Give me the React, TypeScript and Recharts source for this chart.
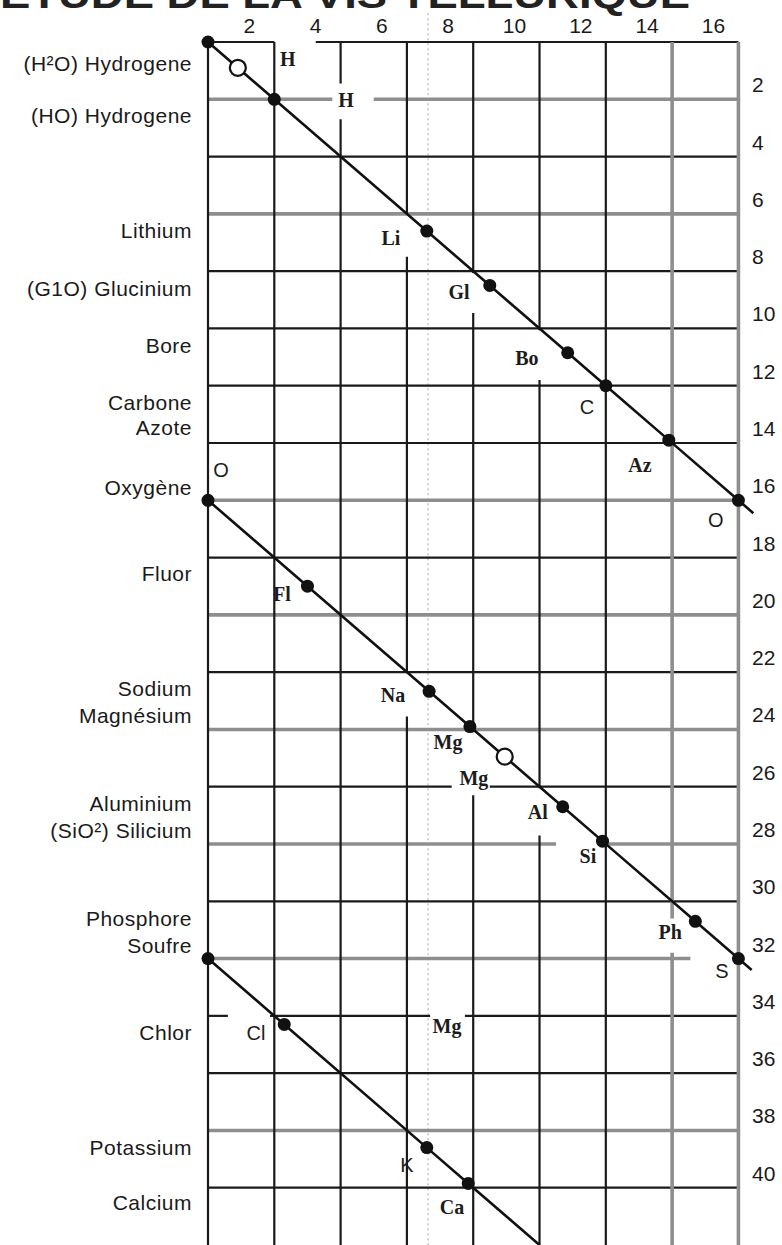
import React from "react";
import { ComposedChart, XAxis, YAxis, Scatter, ReferenceLine } from "recharts";

// ---- data ----
const titleText = "ÉTUDE DE LA VIS TELLURIQUE";
const topTicks = [2, 4, 6, 8, 10, 12, 14, 16];
const rightTicks = [2, 4, 6, 8, 10, 12, 14, 16, 18, 20, 22, 24, 26, 28, 30, 32, 34, 36, 38, 40];

const leftNames = [
  "(H²O) Hydrogene", "(HO) Hydrogene", "Lithium", "(G1O) Glucinium", "Bore",
  "Carbone", "Azote", "Oxygène", "Fluor", "Sodium", "Magnésium", "Aluminium",
  "(SiO²) Silicium", "Phosphore", "Soufre", "Chlor", "Potassium", "Calcium",
];
const leftPositions = [
  0.73, 2.55, 6.56, 8.59, 10.58, 12.57, 13.44, 15.54, 18.54, 22.55, 23.5, 26.57,
  27.51, 30.58, 31.53, 34.56, 38.58, 40.5,
];

// atomic weights of the plotted (filled) points on each turn of the screw
const turn1Weights = [0, 2, 6.6, 8.5, 10.85, 12, 13.9, 16];
const turn2Weights = [16, 19, 22.67, 23.9, 26.7, 27.9, 30.7, 32];
const turn3Weights = [32, 34.3, 38.6, 39.85];
const openWeights = [0.9, 24.95];
const turnStarts = [0, 16, 32];
const turnEnds = [16.45, 32.4, 42];

// element symbols written beside the points
const symbolTexts = ["H", "H", "Li", "Gl", "Bo", "C", "Az", "O", "O", "Fl", "Na", "Mg", "Mg", "Al", "Si", "Ph", "S", "Cl", "Mg", "K", "Ca"];
const symbolX = [2.41, 4.16, 5.52, 7.57, 9.62, 11.43, 13.03, 15.32, 0.39, 2.23, 5.58, 7.24, 8.02, 9.95, 11.46, 13.94, 15.5, 1.45, 7.21, 6.0, 7.36];
const symbolY = [0.59, 2.02, 6.84, 8.73, 11.03, 12.74, 14.77, 16.69, 14.94, 19.27, 22.8, 24.44, 25.7, 26.88, 28.42, 31.07, 32.43, 34.6, 34.35, 39.21, 40.67];

// grid
const gridRows = [0, 2, 4, 6, 8, 10, 12, 14, 16, 18, 20, 22, 24, 26, 28, 30, 32, 34, 36, 38, 40];
const gridCols = [0, 2, 4, 6, 8, 10, 12, 14, 16];
const grayRows = [2, 6, 16, 20, 24, 28, 32, 38];
const grayCols = [14, 16];
const faintCols = [6.64];
const rowGaps: Record<number, number[][]> = {
  0: [[2, 3.25]],
  2: [[3.75, 5]],
  26: [[7.35, 8.5]],
  28: [[10.5, 11.8]],
  32: [[14.55, 16]],
  34: [[0.6, 1.87], [6.7, 7.75]],
};
const colGaps: Record<number, number[][]> = {
  4: [[1.45, 2.7]],
  6: [[6, 7.5], [22, 23.55]],
  8: [[8.07, 9.46], [24.1, 26.3]],
  10: [[10.06, 11.8], [26.05, 27.7]],
  14: [[30.6, 31.8]],
};

// ---- helpers ----
function split(from: number, to: number, gaps: number[][] = []) {
  const out: number[][] = [];
  let cur = from;
  [...gaps].sort((a, b) => a[0] - b[0]).forEach(([a, b]) => {
    if (a > cur) out.push([cur, a]);
    cur = Math.max(cur, b);
  });
  if (cur < to) out.push([cur, to]);
  return out;
}

function turnData(weights: number[], start: number, end: number) {
  return [
    ...weights.map((w) => ({ x: w - start, y: w, kind: "dot" })),
    { x: end - start, y: end, kind: "end" },
  ];
}

const turns = [
  turnData(turn1Weights, turnStarts[0], turnEnds[0]),
  turnData(turn2Weights, turnStarts[1], turnEnds[1]),
  turnData(turn3Weights, turnStarts[2], turnEnds[2]),
];
const openData = openWeights.map((w) => {
  const s = w >= 32 ? 32 : w >= 16 ? 16 : 0;
  return { x: w - s, y: w };
});
const symbolData = symbolTexts.map((t, i) => ({ x: symbolX[i], y: symbolY[i], t }));

const INK = "#1a1a1a";
const GRAY = "#8e8e8e";
const SANS = "'Liberation Sans', Arial, sans-serif";
const SERIF = "'Liberation Serif', 'Times New Roman', serif";
const sansSymbols = new Set(["O", "C", "S", "K", "Cl"]);

const TopTick = (props: any) => (
  <text x={props.x - 25} y={33} textAnchor="middle" fontFamily={SANS} fontSize={21} fill={INK}>
    {props.payload.value}
  </text>
);
const RightTick = (props: any) => (
  <text x={752} y={props.y - 7} textAnchor="start" fontFamily={SANS} fontSize={21} fill={INK}>
    {props.payload.value}
  </text>
);
const LeftTick = (props: any) => {
  const i = leftPositions.indexOf(props.payload.value);
  return (
    <text x={192} y={props.y + 8} textAnchor="end" fontFamily={SANS} fontSize={21} letterSpacing={0.5} fill={INK}>
      {i >= 0 ? leftNames[i] : ""}
    </text>
  );
};

const DotShape = (p: any) =>
  p.payload && p.payload.kind === "end" ? <g /> : <circle cx={p.cx} cy={p.cy} r={6.5} fill="#111" />;
const OpenShape = (p: any) => <circle cx={p.cx} cy={p.cy} r={8} fill="#fff" stroke="#111" strokeWidth={2.2} />;
const SymbolShape = (p: any) => {
  const t = p.payload.t;
  const sans = sansSymbols.has(t);
  return (
    <text
      x={p.cx}
      y={p.cy}
      dy="0.36em"
      textAnchor="middle"
      fontFamily={sans ? SANS : SERIF}
      fontWeight={sans ? 400 : 700}
      fontSize={20}
      fill="#1c1c1c"
    >
      {t}
    </text>
  );
};

export default function App() {
  const rowLines: any[] = [];
  gridRows.forEach((r) => {
    const gray = grayRows.includes(r);
    split(0, 16, rowGaps[r]).forEach(([a, b], k) => {
      rowLines.push(
        <ReferenceLine
          key={`r${r}-${k}`}
          yAxisId="r"
          segment={[{ x: a, y: r }, { x: b, y: r }]}
          stroke={gray ? GRAY : INK}
          strokeWidth={gray ? 3.6 : 2.2}
        />
      );
    });
  });
  const colLines: any[] = [];
  gridCols.forEach((c) => {
    const gray = grayCols.includes(c);
    split(0, 42, colGaps[c]).forEach(([a, b], k) => {
      colLines.push(
        <ReferenceLine
          key={`c${c}-${k}`}
          yAxisId="r"
          segment={[{ x: c, y: a }, { x: c, y: b }]}
          stroke={gray ? GRAY : INK}
          strokeWidth={gray ? 3.6 : 2.2}
        />
      );
    });
  });

  return (
    <div style={{ position: "absolute", left: 0, top: 0, width: 782, height: 1245, background: "#fff", overflow: "hidden" }}>
      <svg width={782} height={40} style={{ position: "absolute", left: 0, top: 0 }}>
        <text x={0} y={8} fontFamily={SANS} fontWeight={700} fontSize={36} fill="#222" textLength={690} lengthAdjust="spacingAndGlyphs">
          {titleText}
        </text>
      </svg>
      <ComposedChart width={782} height={1245} margin={{ top: 0, right: 0, bottom: 0, left: 0 }} style={{ position: "absolute", left: 0, top: 0 }}>
        <XAxis
          xAxisId={0}
          dataKey="x"
          type="number"
          orientation="top"
          domain={[0, 16.5]}
          height={42}
          ticks={topTicks}
          interval={0}
          axisLine={false}
          tickLine={false}
          tick={TopTick}
        />
        <YAxis
          yAxisId="l"
          dataKey="y"
          type="number"
          orientation="left"
          domain={[0, 42]}
          allowDataOverflow
          reversed
          width={208}
          ticks={leftPositions}
          interval={0}
          axisLine={false}
          tickLine={false}
          tick={LeftTick}
        />
        <YAxis
          yAxisId="r"
          dataKey="y"
          type="number"
          orientation="right"
          domain={[0, 42]}
          reversed
          width={27}
          ticks={rightTicks}
          interval={0}
          axisLine={false}
          tickLine={false}
          tick={RightTick}
        />
        {faintCols.map((c) => (
          <ReferenceLine
            key={`f${c}`}
            yAxisId="r"
            segment={[{ x: c, y: -1 }, { x: c, y: 42 }]}
            ifOverflow="visible"
            stroke="#c4c4c4"
            strokeWidth={1.5}
            strokeDasharray="2 3"
          />
        ))}
        {rowLines}
        {colLines}
        {turns.map((d, i) => (
          <Scatter
            key={`t${i}`}
            data={d}
            xAxisId={0}
            yAxisId="r"
            dataKey="y"
            line={{ stroke: "#111", strokeWidth: 2.6 }}
            shape={DotShape}
            isAnimationActive={false}
          />
        ))}
        <Scatter data={openData} xAxisId={0} yAxisId="r" dataKey="y" shape={OpenShape} isAnimationActive={false} />
        <Scatter data={symbolData} xAxisId={0} yAxisId="r" dataKey="y" shape={SymbolShape} isAnimationActive={false} />
      </ComposedChart>
    </div>
  );
}
